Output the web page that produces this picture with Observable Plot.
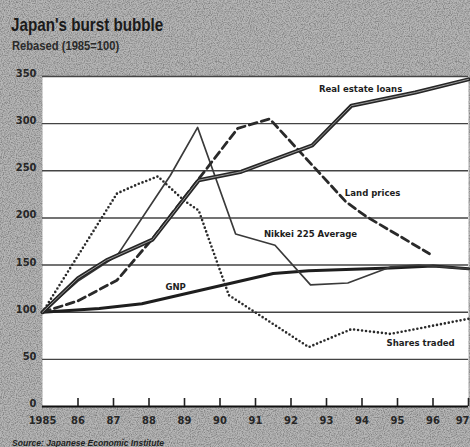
<!DOCTYPE html>
<html>
<head>
<meta charset="utf-8">
<script src="https://cdn.jsdelivr.net/npm/d3@7"></script>
<script src="https://cdn.jsdelivr.net/npm/@observablehq/plot@0.6"></script>
<style>
  html, body { margin: 0; padding: 0; }
  body {
    width: 470px; height: 447px; position: relative; overflow: hidden;
    background-color: #b6b6b6;
    background-image: url("data:image/svg+xml,%3Csvg xmlns='http://www.w3.org/2000/svg' width='240' height='240'%3E%3Cfilter id='n'%3E%3CfeTurbulence type='fractalNoise' baseFrequency='0.85' numOctaves='2' stitchTiles='stitch'/%3E%3CfeColorMatrix values='0 0 0 0 0.2 0 0 0 0 0.2 0 0 0 0 0.2 2.2 0 0 0 -0.85'/%3E%3C/filter%3E%3Crect width='240' height='240' filter='url(%23n)'/%3E%3C/svg%3E");
    font-family: "Liberation Sans", Arial, sans-serif;
  }
  #title { position: absolute; left: 11px; top: 14px; font-size: 19px; font-weight: bold; color: #1a1a1a; transform: scaleX(0.8); transform-origin: 0 0; white-space: nowrap; }
  #subtitle { position: absolute; left: 12px; top: 38px; font-size: 13px; font-weight: bold; color: #2a2a2a; transform: scaleX(0.86); transform-origin: 0 0; white-space: nowrap; }
  #chart { position: absolute; left: 0; top: 56px; }
  #source { position: absolute; left: 12px; top: 437px; font-size: 9.5px; font-weight: bold; font-style: italic; color: #222; transform: scaleX(0.9); transform-origin: 0 0; white-space: nowrap; }
</style>
</head>
<body>
<div id="title">Japan's burst bubble</div>
<div id="subtitle">Rebased (1985=100)</div>
<div id="chart"></div>
<div id="source">Source: Japanese Economic Institute</div>
<script>
// ---- data ----
const realEstateYears  = [1985, 1986, 1986.8, 1988.1, 1989.4, 1990.6, 1992.6, 1993.7, 1995.5, 1997];
const realEstateValues = [100, 136, 155, 177, 240, 249, 277, 319, 333, 347];

const landYears  = [1985, 1986, 1987.1, 1988.1, 1990.5, 1991.4, 1993.55, 1994.1, 1995.9];
const landValues = [100, 112, 134, 178, 295, 305, 217, 202, 162];

const nikkeiYears  = [1985, 1986, 1987.1, 1988.6, 1989.37, 1990.44, 1991.55, 1992.55, 1993.6, 1994.8, 1995.6, 1996.3, 1997];
const nikkeiValues = [100, 133, 160, 245, 296, 183, 171, 129, 131, 148, 150, 148, 146];

const gnpYears  = [1985, 1986.6, 1987.8, 1991.5, 1992.5, 1994.8, 1996, 1997];
const gnpValues = [100, 104, 109, 141, 144, 147, 149, 146];

const sharesYears  = [1985, 1987.1, 1987.7, 1988.25, 1989.0, 1989.4, 1989.7, 1990.25, 1992.5, 1993.7, 1994.8, 1997];
const sharesValues = [100, 226, 236, 244, 218, 208, 176, 118, 63, 82, 77, 93];

const seriesLabels = ["Real estate loans", "Land prices", "Nikkei 225 Average", "GNP", "Shares traded"];
const labelYears   = [1993.96, 1994.3, 1992.55, 1988.75, 1995.65];
const labelValues  = [337, 227, 183, 127, 67];

const xTickYears  = [1985, 1986, 1987, 1988, 1989, 1990, 1991, 1992, 1993, 1994, 1995, 1996, 1997];
const xTickLabels = ["1985", "86", "87", "88", "89", "90", "91", "92", "93", "94", "95", "96", "97"];
const yTicks      = [0, 50, 100, 150, 200, 250, 300, 350];
const yGrid       = [50, 100, 150, 200, 250, 300, 350];

// ---- build tables ----
const toRows = (xs, vs) => xs.map((x, i) => ({x, v: vs[i]}));
const realEstate = toRows(realEstateYears, realEstateValues);
const land = toRows(landYears, landValues);
const nikkei = toRows(nikkeiYears, nikkeiValues);
const gnp = toRows(gnpYears, gnpValues);
const shares = toRows(sharesYears, sharesValues);
const labels = seriesLabels.map((t, i) => ({t, x: labelYears[i], v: labelValues[i]}));
const fmtX = d => xTickLabels[xTickYears.indexOf(d)];

const font = '"DejaVu Sans Condensed", "Liberation Sans Narrow", "Arial Narrow", sans-serif';

const chart = Plot.plot({
  width: 470,
  height: 372,
  marginLeft: 42,
  marginRight: 2,
  marginTop: 20,
  marginBottom: 22,
  x: {domain: [1985, 1997]},
  y: {domain: [0, 350]},
  style: {background: "transparent", fontFamily: font, fontSize: "11px", color: "#222", overflow: "visible"},
  marks: [
    Plot.frame({fill: "white", stroke: null}),
    Plot.ruleY(yGrid, {stroke: "#444", strokeWidth: 1.4}),
    Plot.ruleY([0], {stroke: "#111", strokeWidth: 2.2}),
    Plot.ruleX(xTickYears.slice(1), {y1: 0, y2: 0, insetTop: -8, stroke: "#222", strokeWidth: 1.6}),
    Plot.axisY({ticks: yTicks, tickSize: 0, tickPadding: 6, dy: -3, fontWeight: "bold", fill: "#262626", label: null}),
    Plot.axisX({ticks: xTickYears.slice(0, -1), tickSize: 0, tickPadding: 10, fontWeight: "bold", fill: "#262626", label: null, tickFormat: fmtX}),
    Plot.axisX({ticks: xTickYears.slice(-1), tickSize: 0, tickPadding: 10, fontWeight: "bold", fill: "#262626", label: null, tickFormat: fmtX, textAnchor: "end", dx: 1}),
    // GNP
    Plot.line(gnp, {x: "x", y: "v", stroke: "#1e1e1e", strokeWidth: 3, strokeLinejoin: "round"}),
    // Nikkei
    Plot.line(nikkei, {x: "x", y: "v", stroke: "#3a3a3a", strokeWidth: 1.7, strokeLinejoin: "round"}),
    // Shares traded (dotted)
    Plot.line(shares, {x: "x", y: "v", stroke: "#2a2a2a", strokeWidth: 2.6, strokeDasharray: "0,4", strokeLinecap: "round", strokeLinejoin: "round"}),
    // Land prices (dashed)
    Plot.line(land, {x: "x", y: "v", stroke: "#2a2a2a", strokeWidth: 2.8, strokeDasharray: "8,4.5"}),
    // Real estate loans (double line)
    Plot.line(realEstate, {x: "x", y: "v", stroke: "#262626", strokeWidth: 4, strokeLinejoin: "round"}),
    Plot.line(realEstate, {x: "x", y: "v", stroke: "#9a9a9a", strokeWidth: 1, strokeLinejoin: "round"}),
    Plot.text(labels, {x: "x", y: "v", text: "t", fontWeight: "bold", fontSize: 9.5, fill: "#1e1e1e"})
  ]
});
document.getElementById("chart").appendChild(chart);
</script>
</body>
</html>
